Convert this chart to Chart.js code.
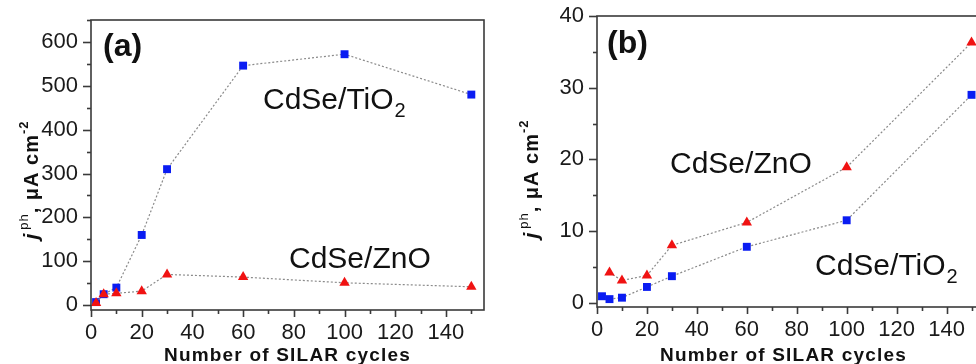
<!DOCTYPE html>
<html>
<head>
<meta charset="utf-8">
<script src="https://cdn.jsdelivr.net/npm/chart.js@4.4.1/dist/chart.umd.min.js"></script>
<style>
  html, body { margin: 0; padding: 0; background: #fff; overflow: hidden; width: 976px; height: 364px; }
  .panel { position: absolute; top: 0; }
  #wrap-a { left: 0; }
  #wrap-b { left: 490px; }
</style>
</head>
<body>
<div class="panel" id="wrap-a"><canvas id="chart-a" width="490" height="364"></canvas></div>
<div class="panel" id="wrap-b"><canvas id="chart-b" width="500" height="364"></canvas></div>
<script>
// SILAR cycle numbers
const cycles = [2, 5, 10, 20, 30, 60, 100, 150];
const cyclesZnOB = [5, 10, 20, 30, 60, 100, 150];

// panel (a), photocurrent in uA/cm2
const tio2A = [7, 25, 40, 160, 310, 546, 572, 480];
const znoA = [5, 25, 27, 32, 70, 64, 51, 42];

// panel (b)
const tio2B = [0.9, 0.5, 0.7, 2.2, 3.7, 7.8, 11.5, 29.0];
const znoB = [4.2, 3.1, 3.8, 8.0, 11.2, 18.9, 36.3];

const xTicks = [0, 20, 40, 60, 80, 100, 120, 140];
const yTicksA = [0, 100, 200, 300, 400, 500, 600];
const yTicksB = [0, 10, 20, 30, 40];

const BLUE = "#0a1cf2";
const RED = "#f01212";
const FONT = "'Liberation Sans', Arial, sans-serif";

function pts(xs, ys) {
    return xs.map((x, i) => ({ x, y: ys[i] }));
}

function series(label, data, color, style, r) {
    return {
        label,
        data,
        borderColor: "#8a8a8a",
        borderWidth: 1.2,
        borderDash: [2, 2],
        pointStyle: style,
        pointRadius: r,
        pointBackgroundColor: color,
        pointBorderColor: color,
        pointBorderWidth: 0,
        tension: 0,
        fill: false,
    };
}

// draws frame, major/minor ticks, axis titles and the in-plot labels
const decor = {
    id: "decor",
    afterDraw(chart, args, o) {
        const { ctx, chartArea: a, scales } = chart;
        const xs = scales.x, ys = scales.y;
        ctx.save();
        ctx.strokeStyle = "#3a3a3a";
        ctx.lineWidth = 1.6;

        // ticks, outward
        const tick = (v, len, axis) => {
            ctx.beginPath();
            if (axis === "x") {
                const p = Math.round(xs.getPixelForValue(v)) + 0.5;
                ctx.moveTo(p, a.bottom); ctx.lineTo(p, a.bottom + len);
            } else {
                const p = Math.round(ys.getPixelForValue(v)) + 0.5;
                ctx.moveTo(a.left, p); ctx.lineTo(a.left - len, p);
            }
            ctx.stroke();
        };
        for (let v = 0; v <= xs.max; v += 10) tick(v, v % 20 === 0 ? 7 : 4, "x");
        for (let v = 0; v <= ys.max + 1e-9; v += o.yMinor) {
            tick(v, Math.abs(v % (o.yMinor * 2)) < 1e-9 ? 8 : 4, "y");
        }

        ctx.strokeRect(a.left, a.top, a.right - a.left, a.bottom - a.top);

        ctx.fillStyle = "#111";
        ctx.textBaseline = "alphabetic";

        // x title
        ctx.font = "bold 19px " + FONT;
        ctx.letterSpacing = "1.2px";
        ctx.textAlign = "center";
        ctx.fillText("Number of SILAR cycles", (a.left + a.right) / 2 + o.xTitleShift, 361);

        // y title with superscripts
        const parts = [
            { t: "j", f: "italic bold 21px " + FONT, dy: 0 },
            { t: " ", f: "bold 7px " + FONT, dy: 0 },
            { t: "ph", f: "13px " + FONT, dy: -10 },
            { t: ", \u03bcA cm", f: "bold 20px " + FONT, dy: 0 },
            { t: "-2", f: "bold 13px " + FONT, dy: -10 },
        ];
        ctx.textAlign = "left";
        ctx.letterSpacing = "1px";
        let total = 0;
        parts.forEach(p => { ctx.font = p.f; p.w = ctx.measureText(p.t).width; total += p.w; });
        ctx.save();
        ctx.translate(o.yTitleX, o.yTitleY);
        ctx.rotate(-Math.PI / 2);
        let cx = -total / 2;
        parts.forEach(p => { ctx.font = p.f; ctx.fillText(p.t, cx, p.dy); cx += p.w; });
        ctx.restore();
        ctx.letterSpacing = "0px";

        // panel letter
        ctx.font = "bold 32px " + FONT;
        ctx.fillText(o.letter, o.letterPos[0], o.letterPos[1]);

        // series labels
        o.labels.forEach(l => {
            ctx.font = "30px " + FONT;
            ctx.fillText(l.text, l.x, l.y);
            if (l.sub) {
                const w = ctx.measureText(l.text).width;
                ctx.font = "20px " + FONT;
                ctx.fillText(l.sub, l.x + w + 1, l.y + 8);
            }
        });
        ctx.restore();
    }
};

function makeChart(id, cfg) {
    return new Chart(document.getElementById(id), {
        type: "line",
        data: { datasets: cfg.datasets },
        options: {
            responsive: false,
            animation: false,
            layout: { padding: { top: cfg.padTop, right: cfg.padRight, left: 0, bottom: 0 } },
            plugins: {
                legend: { display: false },
                tooltip: { enabled: false },
                decor: cfg.decor,
            },
            scales: {
                x: {
                    type: "linear",
                    min: 0, max: 155,
                    afterBuildTicks: s => { s.ticks = xTicks.map(v => ({ value: v })); },
                    afterFit: s => {
                        s.height = cfg.xHeight;
                        s.paddingLeft = 0; s.paddingRight = 0;
                    },
                    grid: { display: false, drawTicks: false, tickLength: 0 },
                    border: { display: false },
                    ticks: { padding: 10, color: "#1a1a1a", font: { family: FONT, size: 22 }, maxRotation: 0 },
                },
                y: {
                    min: cfg.yMin, max: cfg.yMax,
                    afterBuildTicks: s => { s.ticks = cfg.yTicks.map(v => ({ value: v })); },
                    afterFit: s => {
                        s.width = cfg.yWidth;
                        s.paddingTop = 0; s.paddingBottom = 0;
                    },
                    grid: { display: false, drawTicks: false, tickLength: 0 },
                    border: { display: false },
                    ticks: { padding: 13, color: "#1a1a1a", font: { family: FONT, size: 22 } },
                },
            },
        },
        plugins: [decor],
    });
}

makeChart("chart-a", {
    datasets: [
        series("CdSe/ZnO", pts(cycles, znoA), RED, "triangle", 6),
        series("CdSe/TiO2", pts(cycles, tio2A), BLUE, "rect", 5.6),
    ],
    yMin: -11, yMax: 650, yTicks: yTicksA,
    padTop: 20, padRight: 6, xHeight: 54, yWidth: 91,
    decor: {
        yMinor: 50, xTitleShift: 0,
        yTitleX: 38, yTitleY: 180,
        letter: "(a)", letterPos: [103, 56],
        labels: [
            { text: "CdSe/TiO", sub: "2", x: 263, y: 109 },
            { text: "CdSe/ZnO", x: 289, y: 268 },
        ],
    },
});

makeChart("chart-b", {
    datasets: [
        series("CdSe/ZnO", pts(cyclesZnOB, znoB), RED, "triangle", 6),
        series("CdSe/TiO2", pts(cycles, tio2B), BLUE, "rect", 5.6),
    ],
    yMin: -0.6, yMax: 40, yTicks: yTicksB,
    padTop: 16, padRight: 5, xHeight: 57, yWidth: 107,
    decor: {
        yMinor: 5, xTitleShift: -7,
        yTitleX: 48, yTitleY: 179,
        letter: "(b)", letterPos: [117, 53],
        labels: [
            { text: "CdSe/ZnO", x: 180, y: 173 },
            { text: "CdSe/TiO", sub: "2", x: 325, y: 275 },
        ],
    },
});
</script>
</body>
</html>
